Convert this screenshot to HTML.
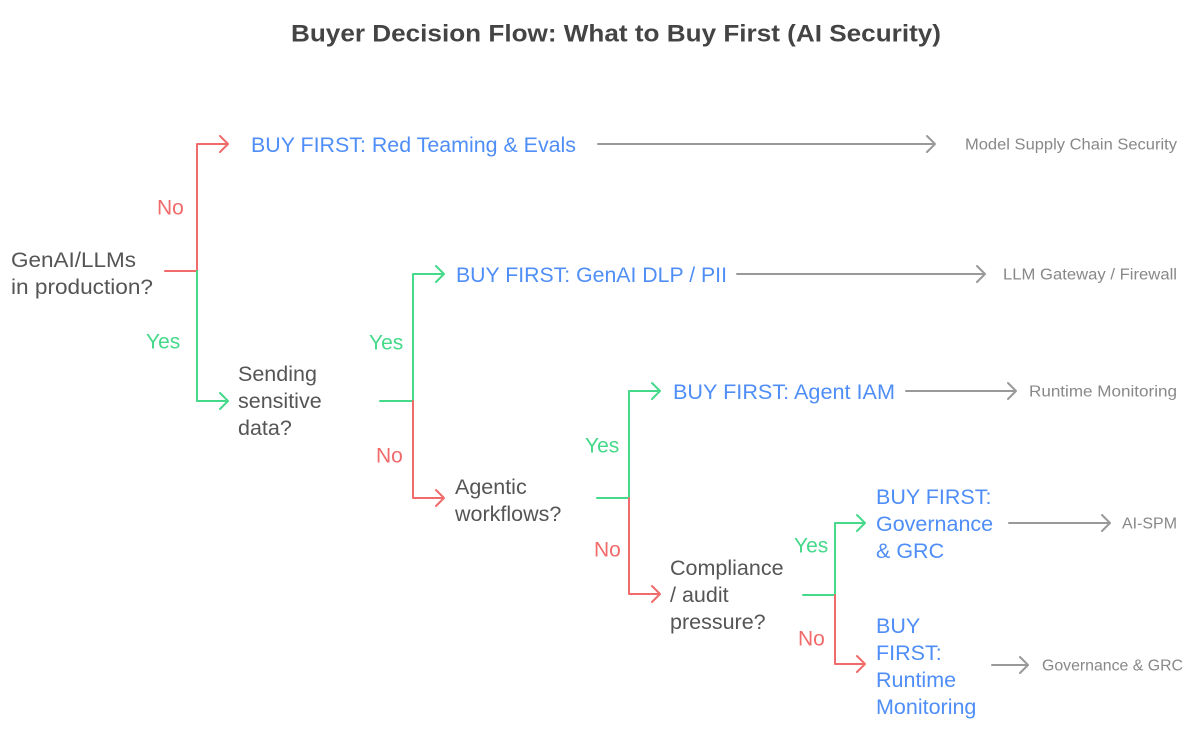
<!DOCTYPE html>
<html><head><meta charset="utf-8"><style>
html,body{margin:0;padding:0;background:#fff;}
svg{display:block;font-family:"Liberation Sans",Arial,sans-serif;}
</style></head><body>
<svg width="1193" height="732" viewBox="0 0 1193 732" xmlns="http://www.w3.org/2000/svg">
<g font-size="20" dominant-baseline="central">
<text x="291" y="34" font-size="24" font-weight="bold" fill="#444" textLength="650" lengthAdjust="spacingAndGlyphs">Buyer Decision Flow: What to Buy First (AI Security)</text>

<g fill="none" stroke-width="2" stroke-linecap="round" stroke-linejoin="round">
<path d="M165 271 H197" stroke="#f26b6b"/>
<path d="M197 271 V144 H228 M220 136 L228 144 L220 152" stroke="#f26b6b"/>
<path d="M197 271 V401 H228 M220 393 L228 401 L220 409" stroke="#45d98a"/>
<path d="M380 401 H413" stroke="#45d98a"/>
<path d="M413 401 V274 H444 M436 266 L444 274 L436 282" stroke="#45d98a"/>
<path d="M413 401 V498 H444 M436 490 L444 498 L436 506" stroke="#f26b6b"/>
<path d="M597 498 H629" stroke="#45d98a"/>
<path d="M629 498 V391 H660 M652 383 L660 391 L652 399" stroke="#45d98a"/>
<path d="M629 498 V594 H660 M652 586 L660 594 L652 602" stroke="#f26b6b"/>
<path d="M803 595 H835" stroke="#45d98a"/>
<path d="M835 595 V523 H865 M857 515 L865 523 L857 531" stroke="#45d98a"/>
<path d="M835 595 V664 H865 M857 656 L865 664 L857 672" stroke="#f26b6b"/>
<g stroke="#999">
<path d="M598 144 H935 M927 136 L935 144 L927 152"/>
<path d="M737 274 H985 M977 266 L985 274 L977 282"/>
<path d="M906 391 H1016 M1008 383 L1016 391 L1008 399"/>
<path d="M1009 523 H1110 M1102 515 L1110 523 L1102 531"/>
<path d="M992 665 H1028 M1020 657 L1028 665 L1020 673"/>
</g>
</g>

<g fill="#555" font-size="21.5">
<text x="11" y="260" textLength="125" lengthAdjust="spacingAndGlyphs">GenAI/LLMs</text>
<text x="11" y="287" textLength="142" lengthAdjust="spacingAndGlyphs">in production?</text>
<text x="238" y="374">Sending</text>
<text x="238" y="401">sensitive</text>
<text x="238" y="428">data?</text>
<text x="455" y="487">Agentic</text>
<text x="455" y="514">workflows?</text>
<text x="670" y="568">Compliance</text>
<text x="670" y="595">/ audit</text>
<text x="670" y="622">pressure?</text>
</g>

<g fill="#f26b6b" font-size="21">
<text x="157" y="208">No</text>
<text x="376" y="456">No</text>
<text x="594" y="550">No</text>
<text x="798" y="639">No</text>
</g>
<g fill="#45d98a" font-size="21">
<text x="146" y="342">Yes</text>
<text x="369" y="343">Yes</text>
<text x="585" y="446">Yes</text>
<text x="794" y="546">Yes</text>
</g>

<g fill="#4f8ef7" font-size="21.5">
<text x="251" y="145" textLength="325" lengthAdjust="spacingAndGlyphs">BUY FIRST: Red Teaming &amp; Evals</text>
<text x="456" y="275" textLength="271" lengthAdjust="spacingAndGlyphs">BUY FIRST: GenAI DLP / PII</text>
<text x="673" y="392" textLength="222" lengthAdjust="spacingAndGlyphs">BUY FIRST: Agent IAM</text>
<text x="876" y="497">BUY FIRST:</text>
<text x="876" y="524">Governance</text>
<text x="876" y="551">&amp; GRC</text>
<text x="876" y="626">BUY</text>
<text x="876" y="653">FIRST:</text>
<text x="876" y="680">Runtime</text>
<text x="876" y="707">Monitoring</text>
</g>

<g fill="#888" font-size="15.5">
<text x="965" y="145" textLength="212" lengthAdjust="spacingAndGlyphs">Model Supply Chain Security</text>
<text x="1003" y="275" textLength="174" lengthAdjust="spacingAndGlyphs">LLM Gateway / Firewall</text>
<text x="1029" y="392" textLength="148" lengthAdjust="spacingAndGlyphs">Runtime Monitoring</text>
<text x="1122" y="524" textLength="55" lengthAdjust="spacingAndGlyphs">AI-SPM</text>
<text x="1042" y="666" textLength="141" lengthAdjust="spacingAndGlyphs">Governance &amp; GRC</text>
</g>
</g>
</svg>
</body></html>
